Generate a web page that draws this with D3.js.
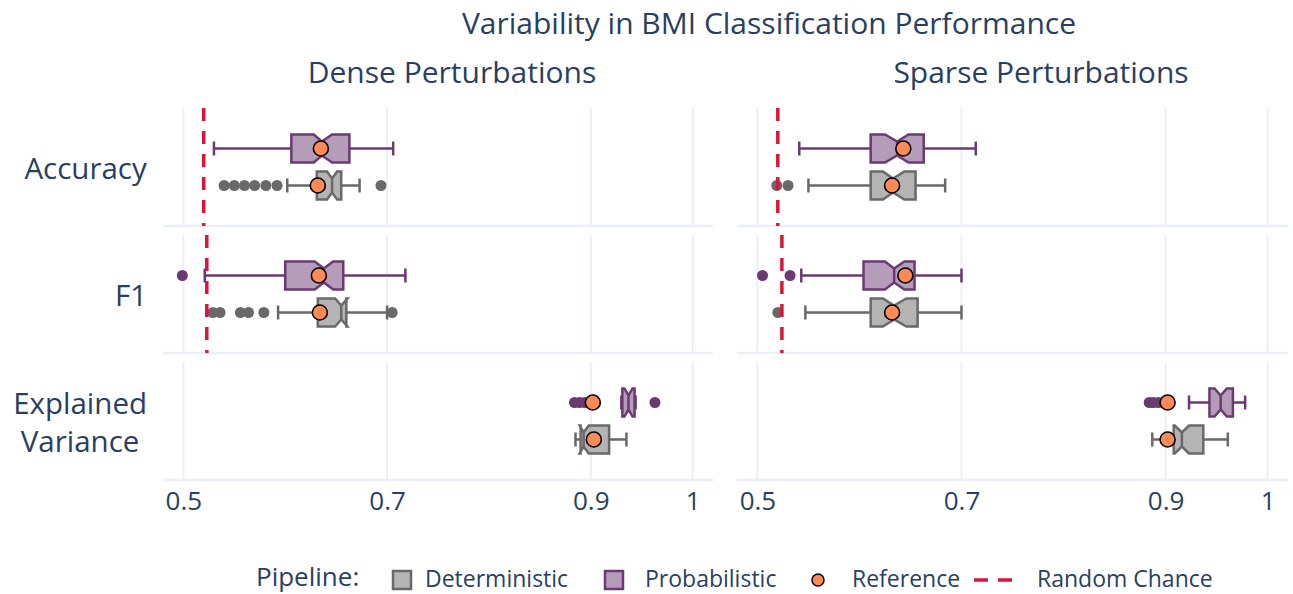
<!DOCTYPE html>
<html><head><meta charset="utf-8">
<script src="https://cdn.jsdelivr.net/npm/d3@7"></script>
<style>
body{margin:0;background:#fff}
svg{display:block}
text{font-family:"Open Sans",sans-serif;fill:#2a3f5f}
</style>
</head><body>
<svg id="chart" width="1293" height="594"></svg>
<script>
// ---------------- DATA ----------------
const panels = ["Dense Perturbations", "Sparse Perturbations"];
const metrics = ["Accuracy", "F1", "Explained Variance"];
const pipelines = ["Deterministic", "Probabilistic"];
const xTicks = [0.5, 0.7, 0.9, 1];

// 12 boxes, ordered: panel (Dense, Sparse) -> metric (Accuracy, F1, Explained Variance) -> pipeline (Deterministic, Probabilistic)
const lowerFence = [0.602, 0.530, 0.593, 0.521, 0.885, 0.930,   0.550, 0.541, 0.547, 0.543, 0.887, 0.923];
const q1Values   = [0.631, 0.606, 0.632, 0.600, 0.890, 0.931,   0.611, 0.611, 0.611, 0.604, 0.908, 0.943];
const notchLow   = [0.641, 0.628, 0.649, 0.629, 0.889, 0.933,   0.623, 0.625, 0.623, 0.625, 0.909, 0.948];
const medians    = [0.646, 0.636, 0.655, 0.638, 0.893, 0.937,   0.633, 0.637, 0.634, 0.634, 0.916, 0.954];
const notchHigh  = [0.651, 0.646, 0.661, 0.647, 0.898, 0.941,   0.644, 0.648, 0.646, 0.644, 0.923, 0.960];
const q3Values   = [0.655, 0.663, 0.660, 0.657, 0.918, 0.943,   0.655, 0.663, 0.657, 0.654, 0.937, 0.966];
const upperFence = [0.673, 0.706, 0.700, 0.718, 0.935, 0.944,   0.684, 0.714, 0.700, 0.700, 0.961, 0.978];
const outliers = [
  [0.540, 0.550, 0.560, 0.570, 0.581, 0.592, 0.694],
  [],
  [0.529, 0.536, 0.556, 0.564, 0.579, 0.705],
  [0.499],
  [],
  [0.884, 0.889, 0.894, 0.963],
  [0.519, 0.530],
  [],
  [0.520],
  [0.505, 0.532],
  [],
  [0.884, 0.888, 0.893]
];
const referenceValues = [0.632, 0.635, 0.634, 0.633, 0.903, 0.902,   0.632, 0.643, 0.632, 0.645, 0.902, 0.902];
// random chance per panel, per metric (null = not shown)
const randomChanceDense  = [0.520, 0.523, null];
const randomChanceSparse = [0.520, 0.524, null];

// ---------------- LAYOUT ----------------
const svg = d3.select("#chart");
const panelRanges = [[163, 713], [737, 1288]];
const xDomain = [0.48, 1.02];
const xScales = panelRanges.map(r => d3.scaleLinear().domain(xDomain).range(r));
const rowBand = d3.scaleBand().domain(metrics).range([108, 480]).paddingInner(0.0709);
const pipeBand = d3.scaleBand().domain(["Probabilistic", "Deterministic"])
  .range([0, rowBand.bandwidth()]).paddingInner(0.243).paddingOuter(0.716);

const lineColor = {Deterministic: "#696969", Probabilistic: "#6b3a73"};
const fillColor = {Deterministic: "rgba(105,105,105,0.5)", Probabilistic: "rgba(107,58,115,0.5)"};
const gridColor = "#ebf0f8";
const refColor = "#ff8a55";
const chanceColor = "#dc143c";

// titles
svg.append("text").attr("x", 769).attr("y", 23).attr("dy", "0.35em")
  .attr("text-anchor", "middle").style("font-size", "30px")
  .text("Variability in BMI Classification Performance");
const subTitleX = [452, 1041];
panels.forEach((p, i) => {
  svg.append("text").attr("x", subTitleX[i]).attr("y", 72).attr("dy", "0.35em")
    .attr("text-anchor", "middle").style("font-size", "30px").text(p);
});

// grid + axis lines
panels.forEach((p, pi) => {
  const x = xScales[pi];
  const g = svg.append("g");
  metrics.forEach(m => {
    const y0 = rowBand(m), y1 = y0 + rowBand.bandwidth();
    g.selectAll(null).data(xTicks).enter().append("line")
      .attr("x1", d => x(d)).attr("x2", d => x(d))
      .attr("y1", y0).attr("y2", y1)
      .attr("stroke", gridColor).attr("stroke-width", 2);
    g.append("line").attr("x1", panelRanges[pi][0]).attr("x2", panelRanges[pi][1])
      .attr("y1", y1).attr("y2", y1).attr("stroke", gridColor).attr("stroke-width", 2.5);
  });
  const axis = d3.axisBottom(x).tickValues(xTicks).tickFormat(d3.format("")).tickSize(0).tickPadding(12);
  const ag = svg.append("g").attr("transform", `translate(0,${480})`).call(axis);
  ag.select(".domain").remove();
  ag.selectAll("text").style("font-size", "26px").style("font-family", "'Open Sans',sans-serif").attr("fill", "#2a3f5f");
});

// y labels
metrics.forEach(m => {
  const cy = rowBand(m) + rowBand.bandwidth() / 2;
  const parts = m === "Explained Variance" ? ["Explained", "Variance"] : [m];
  const t = svg.append("text").attr("text-anchor", "middle").style("font-size", "29.5px");
  parts.forEach((s, i) => {
    t.append("tspan").attr("x", 0).attr("y", cy + 2 + (i - (parts.length - 1) / 2) * 38).attr("dy", "0.35em").text(s);
  });
  const bb = t.node().getBBox();
  t.attr("transform", `translate(${147 - (bb.x + bb.width)},0)`);
});

// boxes
function boxPath(x, y0, y1, q1, ln, med, un, q3) {
  const h = y1 - y0, m0 = y0 + h * 0.25, m1 = y1 - h * 0.25;
  return `M${x(q1)},${y0}L${x(ln)},${y0}L${x(med)},${m0}L${x(un)},${y0}L${x(q3)},${y0}` +
         `L${x(q3)},${y1}L${x(un)},${y1}L${x(med)},${m1}L${x(ln)},${y1}L${x(q1)},${y1}Z` +
         `M${x(med)},${m0}L${x(med)},${m1}`;
}

let k = 0;
panels.forEach((p, pi) => {
  const x = xScales[pi];
  metrics.forEach(m => {
    pipelines.forEach(pl => {
      const i = k++;
      const y0 = rowBand(m) + pipeBand(pl), bw = pipeBand.bandwidth();
      const y1 = y0 + bw, cy = y0 + bw / 2;
      const g = svg.append("g");
      const col = lineColor[pl];
      g.append("path")
        .attr("d", `M${x(lowerFence[i])},${cy}L${x(q1Values[i])},${cy}M${x(q3Values[i])},${cy}L${x(upperFence[i])},${cy}` +
                   `M${x(lowerFence[i])},${cy - bw / 4}L${x(lowerFence[i])},${cy + bw / 4}` +
                   `M${x(upperFence[i])},${cy - bw / 4}L${x(upperFence[i])},${cy + bw / 4}`)
        .attr("stroke", col).attr("stroke-width", 2.5).attr("fill", "none");
      g.append("path")
        .attr("d", boxPath(x, y0, y1, q1Values[i], notchLow[i], medians[i], notchHigh[i], q3Values[i]))
        .attr("stroke", col).attr("stroke-width", 2.5).attr("fill", fillColor[pl]).attr("stroke-linejoin", "miter");
      g.selectAll(null).data(outliers[i]).enter().append("circle")
        .attr("cx", d => x(d)).attr("cy", cy).attr("r", 5.5).attr("fill", col);
    });
  });
});

// reference points
k = 0;
panels.forEach((p, pi) => {
  const x = xScales[pi];
  metrics.forEach(m => {
    pipelines.forEach(pl => {
      const i = k++;
      const cy = rowBand(m) + pipeBand(pl) + pipeBand.bandwidth() / 2;
      svg.append("circle").attr("cx", x(referenceValues[i])).attr("cy", cy).attr("r", 7.5)
        .attr("fill", refColor).attr("stroke", "#000").attr("stroke-width", 1.6);
    });
  });
});

// random chance lines
[randomChanceDense, randomChanceSparse].forEach((arr, pi) => {
  const x = xScales[pi];
  metrics.forEach((m, mi) => {
    if (arr[mi] == null) return;
    svg.append("line").attr("x1", x(arr[mi])).attr("x2", x(arr[mi]))
      .attr("y1", rowBand(m)).attr("y2", rowBand(m) + rowBand.bandwidth())
      .attr("stroke", chanceColor).attr("stroke-width", 3.5).attr("stroke-dasharray", "13,10");
  });
});

// legend
const lg = svg.append("g");
const ly = 579;
lg.append("text").attr("x", 256).attr("y", ly - 2).attr("dy", "0.35em").style("font-size", "26px").text("Pipeline:");
[["Deterministic", 393, 425], ["Probabilistic", 605, 645]].forEach(([name, sx, tx]) => {
  lg.append("rect").attr("x", sx).attr("y", ly - 8).attr("width", 18).attr("height", 18)
    .attr("fill", fillColor[name]).attr("stroke", lineColor[name]).attr("stroke-width", 2.5);
  lg.append("text").attr("x", tx).attr("y", ly).attr("dy", "0.35em").style("font-size", "23px").text(name);
});
lg.append("circle").attr("cx", 818).attr("cy", ly + 1).attr("r", 6).attr("fill", refColor).attr("stroke", "#000").attr("stroke-width", 1.5);
lg.append("text").attr("x", 852).attr("y", ly).attr("dy", "0.35em").style("font-size", "23px").text("Reference");
lg.append("line").attr("x1", 974).attr("x2", 1015).attr("y1", ly + 1).attr("y2", ly + 1)
  .attr("stroke", chanceColor).attr("stroke-width", 3.5).attr("stroke-dasharray", "14,10");
lg.append("text").attr("x", 1037).attr("y", ly).attr("dy", "0.35em").style("font-size", "23px").text("Random Chance");
</script>
</body></html>
